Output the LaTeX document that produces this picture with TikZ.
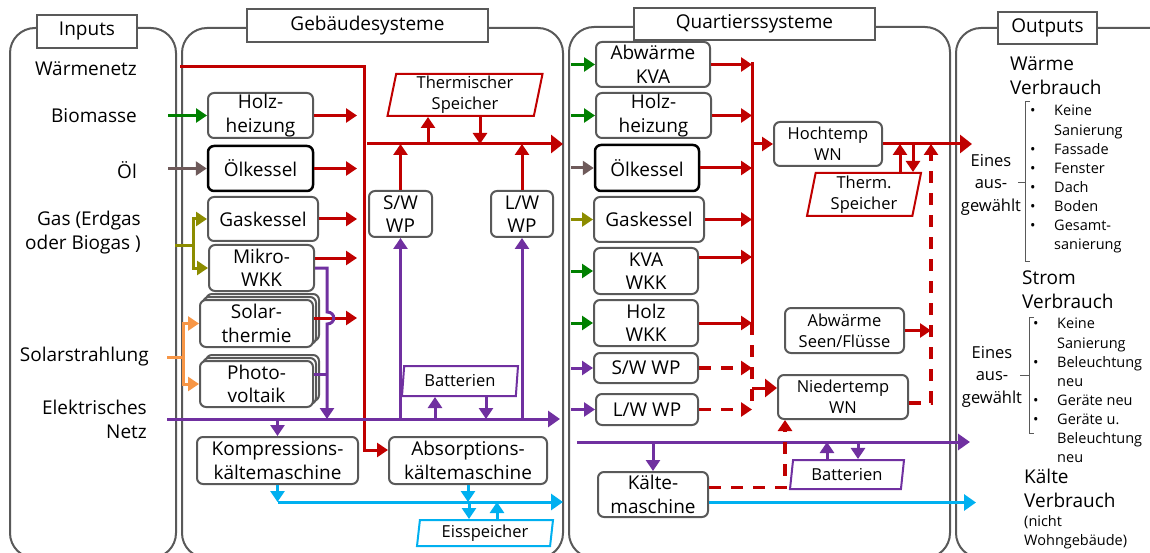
\documentclass[tikz,border=0pt]{standalone}
\usepackage{fontspec}
\setmainfont{Open Sans}
\usetikzlibrary{arrows.meta,shapes.geometric,shadows}
\definecolor{heatred}{RGB}{192,0,0}
\definecolor{elecpurple}{RGB}{112,48,160}
\definecolor{coldblue}{RGB}{0,176,240}
\definecolor{biogreen}{RGB}{0,128,0}
\definecolor{oilbrown}{RGB}{110,90,90}
\definecolor{gasolive}{RGB}{140,140,0}
\definecolor{sunorange}{RGB}{247,150,70}
\definecolor{boxgray}{RGB}{89,89,89}
\newcommand{\bigfont}{\fontsize{19}{23.5}\selectfont}
\newcommand{\midfont}{\fontsize{16.5}{21}\selectfont}
\newcommand{\smallfont}{\fontsize{14.5}{19.1}\selectfont}
\tikzset{
  panel/.style={draw=boxgray, line width=2pt, rounded corners=25pt},
  paneltitle/.style={draw=boxgray, line width=2pt, fill=white, inner sep=0pt, minimum height=33pt, font=\bigfont},
  unitbox/.style={draw=boxgray, line width=2pt, rounded corners=6pt, fill=white, align=center, inner sep=0pt, font=\bigfont},
  stack/.style={double copy shadow={shadow xshift=3pt, shadow yshift=3pt}},
  store/.style 2 args={trapezium, trapezium left angle=#1, trapezium right angle=#2, trapezium stretches body,
    line width=2pt, fill=white, align=center, inner sep=0pt, font=\midfont},
  intext/.style={inner sep=0pt, font=\fontsize{19}{24.5}\selectfont},
  outtext/.style={inner sep=0pt, align=left, font=\fontsize{19}{24}\selectfont},
  seltext/.style={inner sep=0pt, align=center, font=\fontsize{16.5}{22.5}\selectfont},
  listtext/.style={inner sep=0pt, align=left, font=\smallfont},
  brace/.style={draw=boxgray, line width=1pt},
  arr/.style={-{Triangle[length=11pt,width=14pt]}},
  bigarr/.style={-{Triangle[length=12pt,width=18pt]}},
  fuel/.style={draw=#1, line width=3pt, arr},
  heatline/.style={draw=heatred, line width=3pt},
  heat/.style={heatline, arr},
  heatbus/.style={heatline, bigarr},
  heatdline/.style={draw=heatred, line width=3.5pt, dash pattern=on 12pt off 10pt},
  heatd/.style={heatdline, arr},
  elecline/.style={draw=elecpurple, line width=3pt},
  elec/.style={elecline, arr},
  elecbus/.style={elecline, -{Triangle[length=12pt,width=16pt]}},
  cold/.style={draw=coldblue, line width=3pt, arr},
  coldbus/.style={draw=coldblue, line width=3pt, -{Triangle[length=12pt,width=16pt]}}
}
\begin{document}
\begin{tikzpicture}[x=1pt,y=-1pt]
\useasboundingbox (0,0) rectangle (1150,553);
% panels
\draw[panel] (10,28) rectangle (176,558);
\draw[panel] (182,28) rectangle (563,558);
\draw[panel] (569,27) rectangle (950,558);
\draw[panel] (956,28) rectangle (1180,558);
\node[paneltitle, minimum width=100pt] (tIn) at (87,31.5) {Inputs};
\node[paneltitle, minimum width=241pt] (tGeb) at (367.5,25.5) {Gebäudesysteme};
\node[paneltitle, minimum width=241pt, minimum height=32pt] (tQua) at (754.5,24) {Quartierssysteme};
\node[paneltitle, minimum width=99pt, minimum height=32pt] (tOut) at (1047.5,28) {Outputs};

% inputs
\node[intext, anchor=east] (iWN) at (137,69) {Wärmenetz};
\node[intext, anchor=east] (iBio) at (137,116) {Biomasse};
\node[intext, anchor=east] (iOel) at (137,170) {Öl};
\node[intext, anchor=east, align=right] (iGas) at (141,232.5) {Gas (Erdgas\\oder Biogas )};
\node[intext, anchor=east] (iSun) at (149,357) {Solarstrahlung};
\node[intext, anchor=east, align=right] (iNetz) at (147,419.5) {Elektrisches\\Netz};

% Gebaeudesysteme
\node[unitbox, minimum width=105pt, minimum height=45pt] (gHolz) at (260.5,115.5) {Holz-\\heizung};
\node[unitbox, draw=black, line width=2.5pt, minimum width=105pt, minimum height=45pt] (gOel) at (260.5,168.5) {Ölkessel};
\node[unitbox, minimum width=110pt, minimum height=44pt] (gGas) at (263,219) {Gaskessel};
\node[unitbox, minimum width=105pt, minimum height=46pt] (gWKK) at (261.5,268) {Mikro-\\WKK};
\node[unitbox, stack, minimum width=113pt, minimum height=47pt] (gSolar) at (256.5,323.5) {Solar-\\thermie};
\node[unitbox, stack, minimum width=113pt, minimum height=46pt] (gPV) at (256.5,384) {Photo-\\voltaik};
\node[unitbox, minimum width=161pt, minimum height=47pt] (gKomp) at (277.5,460.5) {Kompressions-\\kältemaschine};
\node[unitbox, minimum width=158pt, minimum height=47pt] (gAbs) at (468,460.5) {Absorptions-\\kältemaschine};
\node[unitbox, minimum width=63pt, minimum height=46pt] (gSW) at (400.5,214) {S/W\\WP};
\node[unitbox, minimum width=62pt, minimum height=46pt] (gLW) at (522,214) {L/W\\WP};
\node[store={77}{103}, draw=heatred, minimum width=155pt, minimum height=42pt] (gTS) at (465,95) {Thermischer\\Speicher};
\node[store={80}{100}, draw=elecpurple, minimum width=116pt, minimum height=30pt] (gBat) at (460,381) {Batterien};
\node[store={80}{100}, draw=coldblue, minimum width=136pt, minimum height=26pt] (gEis) at (485,533) {Eisspeicher};

% Quartierssysteme
\node[unitbox, minimum width=114pt, minimum height=45pt] (qAbw) at (653,64.5) {Abwärme\\KVA};
\node[unitbox, minimum width=115pt, minimum height=45pt] (qHolz) at (653.5,115.5) {Holz-\\heizung};
\node[unitbox, draw=black, line width=2.5pt, minimum width=104pt, minimum height=46pt] (qOel) at (647,168) {Ölkessel};
\node[unitbox, minimum width=110pt, minimum height=45pt] (qGas) at (649,219.5) {Gaskessel};
\node[unitbox, minimum width=104pt, minimum height=46pt] (qKVA) at (646,271) {KVA\\WKK};
\node[unitbox, minimum width=104pt, minimum height=46pt] (qHWKK) at (646,323) {Holz\\WKK};
\node[unitbox, minimum width=104pt, minimum height=30pt] (qSW) at (646,368) {S/W WP};
\node[unitbox, minimum width=102pt, minimum height=31pt] (qLW) at (647,409.5) {L/W WP};
\node[unitbox, font=\midfont, minimum width=108pt, minimum height=44pt] (qHT) at (828,144) {Hochtemp\\WN};
\node[unitbox, font=\midfont, minimum width=130pt, minimum height=44pt] (qNT) at (843,397) {Niedertemp\\WN};
\node[unitbox, font=\midfont, minimum width=119pt, minimum height=45pt] (qSeen) at (844.5,330.5) {Abwärme\\Seen/Flüsse};
\node[store={77}{103}, draw=heatred, minimum width=114pt, minimum height=43pt] (qTS) at (864,194.5) {Therm.\\Speicher};
\node[store={76}{104}, draw=elecpurple, minimum width=114pt, minimum height=29pt] (qBat) at (847,474.5) {Batterien};
\node[unitbox, minimum width=110pt, minimum height=45pt] (qKalt) at (653,494.5) {Kälte-\\maschine};

% outputs
\node[outtext, anchor=west] (oWaerme) at (1010,76) {Wärme\\Verbrauch};
\node[seltext] (oWsel) at (991,184.5) {Eines\\aus-\\gewählt};
\draw[brace] (1030,102) -- (1025,102) -- (1025,261) -- (1030,261);
\draw[brace] (1025,183) -- (1018,183);
\node[listtext, anchor=west] (oWlist) at (1030,179) {\begin{tabular}{@{}p{24pt}@{}l@{}}
\textbullet & Keine\\
 & Sanierung\\
\textbullet & Fassade\\
\textbullet & Fenster\\
\textbullet & Dach\\
\textbullet & Boden\\
\textbullet & Gesamt-\\
 & sanierung
\end{tabular}};
\node[outtext, anchor=west] (oStrom) at (1022,289.5) {Strom\\Verbrauch};
\node[seltext] (oSsel) at (992,376.5) {Eines\\aus-\\gewählt};
\draw[brace] (1034,317) -- (1029,317) -- (1029,433) -- (1034,433);
\draw[brace] (1029,375) -- (1020,375);
\node[listtext, anchor=west] (oSlist) at (1033,392) {\begin{tabular}{@{}p{24pt}@{}l@{}}
\textbullet & Keine\\
 & Sanierung\\
\textbullet & Beleuchtung\\
 & neu\\
\textbullet & Geräte neu\\
\textbullet & Geräte u.\\
 & Beleuchtung\\
 & neu
\end{tabular}};
\node[outtext, anchor=west] (oKaelte) at (1024,488.5) {Kälte\\Verbrauch};
\node[listtext, anchor=west] (oKnote) at (1024,532) {(nicht\\Wohngebäude)};

% coordinates
\coordinate (wnIn) at (180,67);
\coordinate (wnX) at (364,0);
\coordinate (absIn) at ([yshift=10.5pt]gAbs.west);
\coordinate (inX) at (168,0);
\coordinate (gasJ) at (193,246);
\coordinate (sunJ) at (183,357);
\coordinate (gStub) at (357,0);
\coordinate (gBus) at (367,144);
\coordinate (gBusE) at (563,144);
\coordinate (gEbus) at (167,419);
\coordinate (gEbusE) at (560,419);
\coordinate (gCbusE) at (563,502);
\coordinate (hop) at (327,318);

% input lines
\draw[heat] (wnIn) -| (wnX |- absIn) -- (absIn);
\draw[fuel=biogreen] (gHolz.west -| inX) -- (gHolz.west);
\draw[fuel=oilbrown] (gOel.west -| inX) -- (gOel.west);
\draw[fuel=gasolive] ([xshift=-18pt]gasJ) -- (gasJ) |- (gGas.west);
\draw[fuel=gasolive] (gasJ) |- (gWKK.west);
\draw[fuel=sunorange] ([xshift=-16pt]sunJ) -- (sunJ) |- (gSolar.west);
\draw[fuel=sunorange] (sunJ) |- (gPV.west);

% heat in Gebaeude
\draw[heat] (gHolz.east) -- (gHolz.east -| gStub);
\draw[heat] (gOel.east) -- (gOel.east -| gStub);
\draw[heat] (gGas.east) -- (gGas.east -| gStub);
\coordinate (wkkOut) at ([yshift=10pt]gWKK.east);
\draw[heat] (wkkOut) -- (wkkOut -| gStub);
\coordinate (solOut) at ([yshift=5.5pt]gSolar.east);
\draw[heat] (solOut) -- (solOut -| gStub);
\draw[heatbus] (gBus) -- (gBusE);
\draw[heat] (gSW.north) -- (gSW.north |- gBus);
\draw[heat] (gLW.north) -- (gLW.north |- gBus);
\coordinate (tsUp) at ([xshift=-37pt]gTS.center);
\coordinate (tsDn) at ([xshift=15pt]gTS.center);
\draw[heat] (tsUp |- gBus) -- (tsUp |- gTS.south);
\draw[heat] (tsDn |- gTS.south) -- (tsDn |- gBus);

% electricity in Gebaeude
\draw[elecbus] (gEbus) -- (gEbusE);
\draw[elec] (gWKK.east) -| ([yshift=6pt]hop) .. controls +(9,0) and +(9,0) .. ([yshift=-6pt]hop) -- (hop |- gEbus);
\coordinate (pvOut) at ([yshift=10pt]gPV.east);
\draw[elecline] (pvOut) -- (pvOut -| hop);
\draw[elec] (gSW.south |- gEbus) -- (gSW.south);
\draw[elec] (gLW.south |- gEbus) -- (gLW.south);
\coordinate (batUp) at ([xshift=-25pt]gBat.center);
\coordinate (batDn) at ([xshift=26pt]gBat.center);
\draw[elec] (batUp |- gEbus) -- (batUp |- gBat.south);
\draw[elec] (batDn |- gBat.south) -- (batDn |- gEbus);
\draw[elec] (gKomp.north |- gEbus) -- (gKomp.north);

% cold in Gebaeude
\draw[cold] (gKomp.south) -- (gKomp.south |- gCbusE);
\draw[coldbus] (gKomp.south |- gCbusE) -- (gCbusE);
\draw[cold] (gAbs.south) -- (gAbs.south |- gCbusE);
\coordinate (eisDn) at ([xshift=-16pt]gEis.center);
\coordinate (eisUp) at ([xshift=12pt]gEis.center);
\draw[cold] (eisDn |- gCbusE) -- (eisDn |- gEis.north);
\draw[cold] (eisUp |- gEis.north) -- (eisUp |- gCbusE);

% Quartier inputs
\coordinate (qIn) at (571,0);
\draw[fuel=biogreen] (qAbw.west -| qIn) -- (qAbw.west);
\draw[fuel=biogreen] (qHolz.west -| qIn) -- (qHolz.west);
\draw[fuel=oilbrown] (qOel.west -| qIn) -- (qOel.west);
\draw[fuel=gasolive] (qGas.west -| qIn) -- (qGas.west);
\draw[fuel=biogreen] (qKVA.west -| qIn) -- (qKVA.west);
\draw[fuel=biogreen] (qHWKK.west -| qIn) -- (qHWKK.west);
\draw[fuel=elecpurple] (qSW.west -| qIn) -- (qSW.west);
\draw[fuel=elecpurple] (qLW.west -| qIn) -- (qLW.west);

% heat in Quartier
\coordinate (qCol) at (752,0);
\coordinate (kvaOut) at ([yshift=14pt]qKVA.east);
\draw[heatline] ([yshift=2pt]qAbw.east -| qCol) -- (qHWKK.east -| qCol);
\draw[heatdline] (qHWKK.east -| qCol) -- (qLW.east -| qCol);
\draw[heat] (qAbw.east) -- (qAbw.east -| qCol);
\draw[heat] (qHolz.east) -- (qHolz.east -| qCol);
\draw[heat] (qOel.east) -- (qOel.east -| qCol);
\draw[heat] (qGas.east) -- (qGas.east -| qCol);
\draw[heat] (kvaOut) -- (kvaOut -| qCol);
\draw[heat] (qHWKK.east) -- (qHWKK.east -| qCol);
\draw[heatd] (qSW.east) -- (qSW.east -| qCol);
\draw[heatd] (qLW.east) -- (qLW.east -| qCol);
\draw[heat] (qHT.west -| qCol) -- (qHT.west);
\coordinate (ntIn) at ([yshift=9pt]qNT.west);
\draw[heatbus] (ntIn -| qCol) -- (ntIn);
\coordinate (qOut) at (972,0);
\draw[heatbus] (qHT.east) -- (qHT.east -| qOut);
\coordinate (tsqUp) at ([xshift=36pt]qTS.center);
\coordinate (tsqDn) at ([xshift=49pt]qTS.center);
\draw[heat] (tsqUp |- qTS.north) -- (tsqUp |- qHT.east);
\draw[heat] (tsqDn |- qHT.east) -- (tsqDn |- qTS.north);
\coordinate (qDash) at (931,0);
\coordinate (ntOut) at ([yshift=-6pt]qNT.east);
\draw[heatd] (ntOut) -| (qDash |- qHT.east);
\draw[heat] (qSeen.east) -- (qSeen.east -| qDash);

% electricity in Quartier
\coordinate (qEbus) at (577,442);
\coordinate (qEbusE) at (970,442);
\draw[elecbus] (qEbus) -- (qEbusE);
\draw[elec] (qKalt.north |- qEbus) -- (qKalt.north);
\coordinate (qbUp) at ([xshift=-20pt]qBat.center);
\coordinate (qbDn) at ([xshift=11pt]qBat.center);
\draw[elec] (qbUp |- qBat.north) -- (qbUp |- qEbus);
\draw[elec] (qbDn |- qEbus) -- (qbDn |- qBat.north);

% cold in Quartier
\coordinate (kOut) at ([yshift=7pt]qKalt.east);
\coordinate (ntB) at ([xshift=-58pt]qNT.south);
\draw[heatd] (kOut) -| (ntB);
\coordinate (kCold) at ([yshift=-8pt]qKalt.east);
\coordinate (qCend) at (976,0);
\draw[coldbus] (kCold) -- (kCold -| qCend);
\end{tikzpicture}
\end{document}
